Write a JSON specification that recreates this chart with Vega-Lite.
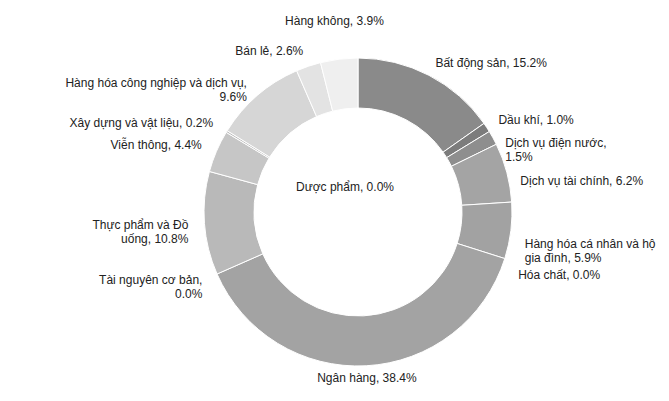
{
  "$schema": "https://vega.github.io/schema/vega-lite/v6.json",
  "width": 669,
  "height": 401,
  "autosize": {"type": "fit", "contains": "padding"},
  "padding": {"left": 47, "top": 23, "right": 0, "bottom": 0},
  "background": "white",
  "view": {"stroke": null},
  "config": {"text": {"font": "Liberation Sans", "fontSize": 12, "fill": "#222222", "baseline": "middle", "lineBreak": "|"}},
  "data": {
    "values": [
      {"sector": "Bất động sản", "value": 15.2, "label": "Bất động sản, 15.2%"},
      {"sector": "Dầu khí", "value": 1.0, "label": "Dầu khí, 1.0%"},
      {"sector": "Dịch vụ điện nước", "value": 1.5, "label": "Dịch vụ điện nước,|1.5%"},
      {"sector": "Dịch vụ tài chính", "value": 6.2, "label": "Dịch vụ tài chính, 6.2%"},
      {"sector": "Dược phẩm", "value": 0.0, "label": "Dược phẩm, 0.0%"},
      {"sector": "Hàng hóa cá nhân và hộ gia đình", "value": 5.9, "label": "Hàng hóa cá nhân và hộ|gia đình, 5.9%"},
      {"sector": "Hóa chất", "value": 0.0, "label": "Hóa chất, 0.0%"},
      {"sector": "Ngân hàng", "value": 38.4, "label": "Ngân hàng, 38.4%"},
      {"sector": "Tài nguyên cơ bản", "value": 0.0, "label": "Tài nguyên cơ bản,|0.0%"},
      {"sector": "Thực phẩm và Đồ uống", "value": 10.8, "label": "Thực phẩm và Đồ|uống, 10.8%"},
      {"sector": "Viễn thông", "value": 4.4, "label": "Viễn thông, 4.4%"},
      {"sector": "Xây dựng và vật liệu", "value": 0.2, "label": "Xây dựng và vật liệu, 0.2%"},
      {"sector": "Hàng hóa công nghiệp và dịch vụ", "value": 9.6, "label": "Hàng hóa công nghiệp và dịch vụ,|9.6%"},
      {"sector": "Bán lẻ", "value": 2.6, "label": "Bán lẻ, 2.6%"},
      {"sector": "Hàng không", "value": 3.9, "label": "Hàng không, 3.9%"}
    ]
  },
  "transform": [
    {"window": [{"op": "row_number", "as": "rank"}]},
    {"stack": "value", "groupby": [], "sort": [{"field": "rank", "order": "ascending"}], "as": ["start", "end"]},
    {"calculate": "(datum.start + datum.end) / 2", "as": "mid"}
  ],
  "layer": [
    {
      "transform": [{"filter": "datum.value > 0"}],
      "mark": {"type": "arc", "innerRadius": 104, "outerRadius": 154, "stroke": "white", "strokeWidth": 1},
      "encoding": {
        "theta": {"field": "start", "type": "quantitative", "scale": {"domain": [0, 99.7]}},
        "theta2": {"field": "end"},
        "color": {
          "field": "sector",
          "type": "nominal",
          "legend": null,
          "scale": {
            "domain": ["Bất động sản", "Dầu khí", "Dịch vụ điện nước", "Dịch vụ tài chính", "Hàng hóa cá nhân và hộ gia đình", "Ngân hàng", "Thực phẩm và Đồ uống", "Viễn thông", "Xây dựng và vật liệu", "Hàng hóa công nghiệp và dịch vụ", "Bán lẻ", "Hàng không"],
            "range": ["#8a8a8a", "#7c7c7c", "#8e8e8e", "#a4a4a4", "#a2a2a2", "#a3a3a3", "#b9b9b9", "#c6c6c6", "#bdbdbd", "#d6d6d6", "#e3e3e3", "#efefef"]
          }
        }
      }
    },
    {
      "transform": [{"filter": {"field": "sector", "oneOf": ["Bất động sản", "Dầu khí"]}}],
      "mark": {"type": "text", "align": "left"},
      "encoding": {
        "theta": {"field": "mid", "type": "quantitative"},
        "radius": {"value": 168},
        "text": {"field": "label"}
      }
    },
    {
      "transform": [{"filter": {"field": "sector", "oneOf": ["Dịch vụ điện nước", "Dịch vụ tài chính", "Hàng hóa cá nhân và hộ gia đình", "Hóa chất"]}}],
      "mark": {"type": "text", "align": "left", "dy": 12},
      "encoding": {
        "theta": {"field": "mid", "type": "quantitative"},
        "radius": {"value": 168},
        "text": {"field": "label"}
      }
    },
    {
      "transform": [{"filter": {"field": "sector", "oneOf": ["Tài nguyên cơ bản", "Thực phẩm và Đồ uống", "Viễn thông", "Xây dựng và vật liệu", "Hàng hóa công nghiệp và dịch vụ", "Bán lẻ"]}}],
      "mark": {"type": "text", "align": "right"},
      "encoding": {
        "theta": {"field": "mid", "type": "quantitative"},
        "radius": {"value": 170},
        "text": {"field": "label"}
      }
    },
    {
      "transform": [{"filter": {"field": "sector", "equal": "Ngân hàng"}}],
      "mark": {"type": "text", "align": "center"},
      "encoding": {
        "theta": {"field": "mid", "type": "quantitative"},
        "radius": {"value": 166},
        "text": {"field": "label"}
      }
    },
    {
      "transform": [{"filter": {"field": "sector", "equal": "Hàng không"}}],
      "mark": {"type": "text", "align": "center"},
      "encoding": {
        "theta": {"field": "mid", "type": "quantitative"},
        "radius": {"value": 192},
        "text": {"field": "label"}
      }
    },
    {
      "transform": [{"filter": {"field": "sector", "equal": "Dược phẩm"}}],
      "mark": {"type": "text", "align": "center", "dx": -13, "dy": -25},
      "encoding": {
        "theta": {"field": "mid", "type": "quantitative"},
        "radius": {"value": 0},
        "text": {"field": "label"}
      }
    }
  ]
}
